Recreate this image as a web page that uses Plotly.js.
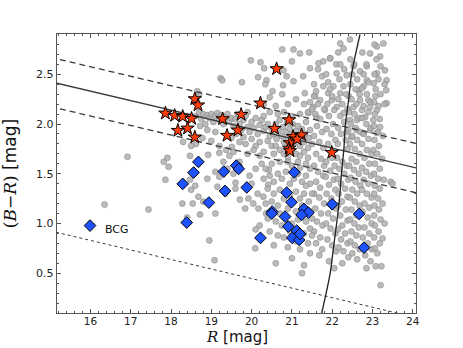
<!DOCTYPE html>
<html>
<head>
<meta charset="utf-8">
<script src="https://cdn.plot.ly/plotly-3.0.1.min.js"></script>
<style>
  body { margin: 0; background: #fff; }
  #chart { width: 463px; height: 348px; }
</style>
</head>
<body>
<div id="chart"></div>
<script>
// field galaxies (gray) as [R, B-R]
const fieldGalaxies = [
  [16.35,1.19],[16.92,1.67],[17.44,1.14],[17.82,1.62],[17.86,1.44],[17.91,1.66],[17.94,1.57],[18.28,1.2],
  [18.47,1.68],[18.5,1.34],[18.54,1.2],[18.47,1.44],[18.72,1.09],[18.95,0.83],[19.08,0.63],[19.1,1.1],
  [18.8,1.22],[18.68,1.27],[19.15,1.37],[18.92,1.69],[19.2,1.71],[19.37,1.74],[19.51,1.77],[19.6,1.41],
  [19.71,1.24],[19.84,1.15],[19.92,1.25],[20.04,1.2],[20.1,0.94],[20.09,0.75],[20.17,1.15],[20.29,1.27],
  [20.36,1.1],[20.41,1.39],[20.43,1.54],[18.3,1.82],[18.6,1.38],[18.4,1.06],[18.9,1.45],[19.35,1.3],
  [19.98,2.64],[20.22,2.62],[20.31,2.56],[20.16,2.47],[20.37,2.44],[20.34,2.4],[19.76,2.42],[19.23,2.46],
  [19.27,2.44],[20.52,2.33],[20.76,2.3],[20.78,2.39],[21.04,2.43],[20.87,2.48],[20.79,2.54],[21.0,2.63],
  [21.04,2.75],[20.76,2.75],[21.2,2.71],[21.43,2.72],[21.45,2.56],[21.28,2.48],[21.32,2.31],[21.57,2.28],
  [21.66,2.61],[21.78,2.63],[21.95,2.66],[22.2,2.81],[22.28,2.76],[22.44,2.85],[22.11,2.51],[22.36,2.49],
  [22.53,2.58],[22.69,2.53],[22.86,2.58],[22.94,2.71],[23.11,2.78],[23.27,2.81],[23.19,2.68],[23.31,2.54],
  [23.35,2.44],[23.34,2.34],[23.35,2.21],[23.11,2.51],[23.03,2.41],[22.86,2.44],[22.78,2.38],[22.65,2.34],
  [22.69,2.24],[22.9,2.24],[23.07,2.28],[23.11,2.14],[22.94,2.17],[22.74,2.14],[22.53,2.17],[22.41,2.28],
  [22.2,2.31],[22.03,2.38],[21.9,2.31],[21.78,2.38],[21.7,2.24],[21.53,2.17],[21.41,2.11],[21.61,2.07],
  [21.82,2.14],[21.99,2.24],[22.11,2.17],[22.28,2.11],[22.44,2.04],[22.61,2.04],[22.82,2.07],[23.02,2.04],
  [23.19,1.97],[23.11,1.91],[22.94,1.94],[22.78,1.91],[22.61,1.94],[22.48,1.87],[22.36,1.92],
  [18.62,2.08],[18.7,2.12],[18.75,2.05],[18.8,2.1],[18.85,2.0],[18.9,2.09],[18.95,2.06],[19.0,2.1],
  [19.05,2.02],[19.1,2.08],[19.15,2.11],[19.2,2.04],[19.25,2.09],[19.3,2.0],[19.35,2.07],[19.4,2.1],
  [19.45,2.03],[18.72,1.98],[18.9,1.94],[19.1,1.92],[18.65,2.22],[18.7,2.3],[18.65,2.33],[18.62,1.8],
  [18.5,1.78],[18.78,1.86],[19.0,1.83],[19.2,1.78],[19.5,1.86],[19.55,1.72],
  [19.5,2.06],[19.55,1.98],[19.6,2.05],[19.65,2.1],[19.7,2.0],[19.75,1.94],[19.8,2.04],[19.85,2.08],
  [19.9,1.97],[19.95,1.92],[20.0,2.02],[20.05,1.96],[20.1,2.06],[20.15,1.9],[20.2,1.99],[20.25,2.04],
  [20.3,1.93],[20.35,1.97],[20.4,2.0],[20.45,1.88],[20.5,1.95],[19.62,1.9],[19.8,1.87],[20.0,1.85],
  [20.2,1.82],[20.4,1.83],[20.1,1.78],[19.9,2.12],[20.3,2.08],[20.45,2.12],[19.7,1.82],[20.05,1.74],
  [20.3,1.72],[20.5,1.78],[19.85,1.8],
  [20.55,1.9],[20.6,2.0],[20.62,1.85],[20.68,1.94],[20.7,2.04],[20.75,1.88],[20.78,1.97],[20.8,1.82],
  [20.85,1.92],[20.88,2.01],[20.9,1.86],[20.95,1.95],[21.0,1.9],[21.02,2.0],[21.05,1.8],[21.1,1.93],
  [21.12,1.85],[21.15,1.98],[21.2,1.78],[21.22,1.88],[21.25,1.95],[21.3,1.82],[21.32,1.9],[21.35,2.02],
  [21.4,1.76],[21.42,1.86],[21.45,1.94],[21.5,1.8],[20.6,1.78],[20.7,1.74],[20.8,1.7],[20.9,1.66],
  [21.0,1.72],[21.1,1.7],[21.2,1.68],[21.3,1.72],[21.4,1.66],[20.65,2.1],[20.8,2.12],[21.0,2.08],
  [21.2,2.1],[21.4,2.12],[20.55,1.7],[21.15,1.62],[21.35,1.6],
  [20.3,2.2],[20.45,2.27],[20.6,2.18],[20.9,2.2],[21.1,2.25],[21.3,2.2],[21.45,2.22],[21.55,2.28],[21.5,2.15],
  [21.55,2.4],[21.6,2.33],[21.65,2.2],[21.58,2.1],[21.7,2.05],[21.62,1.98],[21.75,1.92],[21.55,1.88],
  [21.68,1.82],[21.78,1.76],[21.6,1.7],[21.72,1.65],[21.55,1.58],[21.65,1.52],[21.78,1.48],[21.6,1.42],
  [21.7,1.36],[21.55,1.3],[21.68,1.26],[21.8,1.2],[21.58,1.15],[21.72,1.1],[21.62,1.02],[21.76,0.98],
  [21.55,0.92],[21.7,0.86],[21.6,0.8],[21.75,0.74],[21.68,0.68],[21.8,1.58],[21.8,2.15],[21.75,2.48],[21.65,2.55],
  [21.85,2.5],[21.9,2.42],[21.95,2.35],[22.0,2.28],[21.88,2.2],[22.05,2.14],[21.92,2.08],[22.02,2.0],
  [21.86,1.95],[21.98,1.9],[22.08,1.84],[21.9,1.8],[22.0,1.66],[21.85,1.62],[22.06,1.58],[21.95,1.53],
  [21.84,1.47],[22.04,1.44],[21.92,1.39],[22.08,1.34],[21.86,1.3],[21.98,1.25],[22.1,1.15],[21.9,1.1],
  [22.02,1.05],[21.85,1.0],[21.96,0.95],[22.08,0.9],[21.88,0.84],[22.0,0.78],[22.1,0.72],[21.92,0.62],
  [22.05,0.55],[22.1,2.6],[21.95,2.66],
  [22.15,2.72],[22.2,2.6],[22.3,2.55],[22.18,2.45],[22.28,2.38],[22.35,2.3],[22.15,2.25],[22.25,2.2],
  [22.38,2.15],[22.2,2.08],[22.3,2.02],[22.15,1.96],[22.4,1.94],[22.22,1.9],[22.34,1.84],[22.14,1.8],
  [22.38,1.75],[22.12,1.66],[22.25,1.62],[22.36,1.58],[22.18,1.55],[22.3,1.5],[22.14,1.45],[22.4,1.44],
  [22.22,1.4],[22.32,1.35],[22.16,1.3],[22.38,1.27],[22.24,1.22],[22.14,1.18],[22.34,1.14],[22.2,1.08],
  [22.38,1.03],[22.25,0.98],[22.14,0.94],[22.32,0.9],[22.22,0.84],[22.38,0.8],[22.16,0.76],[22.28,0.72],
  [22.4,0.66],[22.25,0.6],
  [22.45,2.65],[22.55,2.6],[22.5,2.5],[22.62,2.45],[22.45,2.4],[22.58,2.35],[22.68,2.3],[22.48,2.25],
  [22.6,2.2],[22.42,2.12],[22.55,2.1],[22.68,2.06],[22.46,2.0],[22.58,1.96],[22.7,1.92],[22.5,1.88],
  [22.62,1.84],[22.44,1.8],[22.56,1.75],[22.68,1.7],[22.48,1.65],[22.6,1.62],[22.42,1.58],[22.54,1.54],
  [22.66,1.5],[22.46,1.46],[22.58,1.42],[22.7,1.38],[22.5,1.34],[22.62,1.3],[22.44,1.26],[22.56,1.22],
  [22.68,1.18],[22.48,1.14],[22.6,1.08],[22.44,1.04],[22.55,1.0],[22.66,0.96],[22.48,0.92],[22.6,0.88],
  [22.45,0.82],[22.56,0.78],[22.68,0.74],[22.5,0.7],[22.62,0.64],
  [22.75,2.72],[22.85,2.6],[22.78,2.5],[22.9,2.42],[22.74,2.36],[22.86,2.3],[22.95,2.22],[22.78,2.18],
  [22.9,2.12],[22.75,2.06],[22.85,2.0],[22.96,1.96],[22.78,1.9],[22.9,1.85],[22.74,1.8],[22.86,1.74],
  [22.98,1.7],[22.8,1.66],[22.92,1.6],[22.74,1.56],[22.84,1.52],[22.96,1.48],[22.78,1.44],[22.9,1.4],
  [22.74,1.34],[22.86,1.3],[22.98,1.26],[22.8,1.2],[22.92,1.16],[22.75,1.12],[22.88,1.06],[22.98,1.0],
  [22.8,0.96],[22.92,0.9],[22.76,0.86],[22.88,0.8],[22.98,0.74],[22.82,0.68],[22.95,0.62],[22.85,0.55],
  [23.05,2.8],[23.1,2.65],[23.2,2.58],[23.05,2.5],[23.15,2.45],[23.3,2.4],[23.08,2.35],[23.2,2.3],
  [23.04,2.22],[23.15,2.18],[23.3,2.2],[23.06,2.1],[23.18,2.05],[23.04,1.98],[23.14,1.92],[23.26,1.88],
  [23.05,1.84],[23.16,1.78],[23.02,1.74],[23.12,1.7],[23.24,1.65],[23.06,1.6],[23.18,1.55],[23.04,1.5],
  [23.14,1.45],[23.28,1.44],[23.06,1.38],[23.18,1.35],[23.04,1.3],[23.14,1.25],[23.05,1.18],[23.16,1.14],
  [23.04,1.08],[23.2,1.04],[23.06,0.98],[23.15,0.92],[23.04,0.86],[23.18,0.8],[23.06,0.75],[23.12,0.7],
  [23.25,0.85],[23.3,1.0],[23.25,1.2],[23.22,0.57],[23.08,0.57],[23.2,0.38],[23.45,1.42],[23.5,1.4],
  [20.3,1.45],[20.45,1.48],[20.55,1.42],[20.65,1.5],[20.75,1.45],[20.85,1.52],[20.95,1.4],[21.05,1.45],
  [21.15,1.5],[21.25,1.42],[21.35,1.48],[21.45,1.4],[20.4,1.35],[20.55,1.3],[20.7,1.34],[20.8,1.25],
  [20.95,1.28],[21.1,1.32],[21.2,1.25],[21.3,1.3],[21.42,1.22],[20.35,1.2],[20.5,1.22],[20.65,1.18],
  [20.7,1.1],[20.9,1.15],[21.1,1.12],[21.25,1.18],[21.45,1.12],[20.4,1.05],[20.6,1.02],[20.75,0.98],
  [21.0,1.0],[21.15,1.04],[21.35,1.02],[21.5,1.05],[20.45,0.92],[20.65,0.88],[20.8,0.86],[21.1,0.82],
  [21.3,0.9],[21.45,0.95],[20.55,0.78],[20.9,0.76],[21.2,0.74],[21.4,0.8],[21.0,0.65],[21.3,0.58],
  [21.25,0.5],[20.6,0.6],[20.2,0.98],[20.15,1.3],[20.25,1.6],[20.5,1.6],[20.7,1.62],[21.0,1.58],
  [21.2,1.56],[21.45,1.55],[20.9,1.62],[20.35,1.55],[21.5,1.3],[21.5,0.88],[21.45,0.7],[20.95,0.92],[21.35,1.38],
  [19.55,1.5],[19.7,1.62],[19.95,1.48],[20.1,1.55],[19.6,1.35],[20.0,1.4],[19.45,1.68],[19.9,1.7],
  [20.2,1.68],[19.3,1.62],[19.4,1.55],[19.2,1.47],[19.1,1.52]
];

// spectroscopic members (stars)
const memberR  = [17.86,18.09,18.29,18.51,18.59,18.67,18.17,18.41,18.59,19.28,19.74,19.39,19.66,20.22,20.62,20.57,20.93,21.03,21.24,20.95,20.93,20.95,21.13,21.99];
const memberBR = [2.108,2.085,2.075,2.055,2.252,2.19,1.934,1.957,1.867,2.051,2.095,1.884,1.937,2.209,2.554,1.954,2.041,1.873,1.89,1.81,1.756,1.73,1.847,1.713];

// blue objects (diamonds), first one is the BCG
const blueR  = [15.99,18.68,18.56,18.29,18.39,18.94,19.31,19.34,19.62,19.68,19.88,20.22,20.51,20.5,20.87,20.99,20.83,20.91,21.01,21.12,21.18,21.2,21.06,21.3,21.41,21.24,22.0,22.67,22.79];
const blueBR = [0.979,1.619,1.512,1.398,1.009,1.21,1.522,1.327,1.582,1.549,1.362,0.855,1.12,1.1,1.31,1.214,1.069,0.969,0.855,0.928,0.835,0.895,1.515,1.146,1.109,1.086,1.193,1.096,0.757];

// red sequence fit and its envelope
const fitR = [15.0, 24.5];
const fitBR = [2.426, 1.519];
const upperBR = [2.671, 1.764];
const lowerBR = [2.176, 1.269];
// dotted limit line
const dotR = [15.0, 24.5];
const dotBR = [0.926, 0.014];
// magnitude limit curve
const limR  = [21.74, 21.85, 21.95, 22.03, 22.11, 22.18, 22.23, 22.29, 22.33, 22.41, 22.48, 22.58, 22.69];
const limBR = [0.1, 0.3, 0.5, 0.75, 1.0, 1.25, 1.5, 1.75, 2.0, 2.25, 2.5, 2.7, 2.9];

const lineCol = '#3a3a3a';

const traces = [
  {
    x: fieldGalaxies.map(p => p[0]), y: fieldGalaxies.map(p => p[1]),
    mode: 'markers', type: 'scatter',
    marker: { size: 6, color: 'rgba(175,175,175,0.85)', line: { color: 'rgba(125,125,125,0.8)', width: 0.6 } }
  },
  { x: fitR, y: fitBR, mode: 'lines', line: { color: lineCol, width: 1.3 } },
  { x: fitR, y: upperBR, mode: 'lines', line: { color: lineCol, width: 1.3, dash: '6px,4px' } },
  { x: fitR, y: lowerBR, mode: 'lines', line: { color: lineCol, width: 1.3, dash: '6px,4px' } },
  { x: dotR, y: dotBR, mode: 'lines', line: { color: lineCol, width: 1, dash: 'dot' } },
  { x: limR, y: limBR, mode: 'lines', line: { color: '#222', width: 1.3, shape: 'spline' } },
  {
    x: blueR, y: blueBR, mode: 'markers',
    marker: { symbol: 'diamond', size: 9, color: '#1f52ff', line: { color: '#000', width: 1 } }
  },
  {
    x: memberR, y: memberBR, mode: 'markers',
    marker: { symbol: 'star', size: 10, color: '#ff3d0a', line: { color: '#000', width: 1 } }
  }
];

const axisCommon = {
  showgrid: false, zeroline: false,
  showline: true, linecolor: '#555', linewidth: 1.3, mirror: 'allticks',
  ticks: 'inside', ticklen: 4, tickcolor: '#555', tickwidth: 1,
  tickfont: { family: 'DejaVu Sans', size: 11, color: '#222' }
};

const layout = {
  width: 463, height: 348,
  margin: { l: 57, r: 47, t: 34, b: 35 },
  paper_bgcolor: '#fff', plot_bgcolor: '#fff',
  showlegend: false,
  xaxis: Object.assign({}, axisCommon, {
    range: [15.17, 24.08], dtick: 1, tick0: 0,
    tickfont: { family: 'DejaVu Sans', size: 10.5, color: '#222' },
    ticklabelstandoff: -2,
    minor: { dtick: 0.2, ticks: 'inside', ticklen: 2, tickcolor: '#555' }
  }),
  yaxis: Object.assign({}, axisCommon, {
    range: [0.1, 2.905], dtick: 0.5, tick0: 0, tickformat: '.1f',
    minor: { dtick: 0.1, ticks: 'inside', ticklen: 2, tickcolor: '#555' },
    title: { text: '<span style="font-family:DejaVu Serif">(<i>B</i>−<i>R</i>)</span> [mag]', font: { family: 'DejaVu Sans', size: 17, color: '#111' } }
  }),
  annotations: [
    { x: 16.3, y: 0.935, xref: 'x', yref: 'y', text: 'BCG', showarrow: false, xanchor: 'left',
      font: { family: 'DejaVu Sans', size: 11, color: '#111' } },
    { x: 0.5, y: 0, xref: 'paper', yref: 'paper', yanchor: 'top', yshift: -14, borderpad: 0, showarrow: false,
      text: '<span style="font-family:DejaVu Serif"><i>R</i></span> [mag]',
      font: { family: 'DejaVu Sans', size: 15, color: '#111' } }
  ]
};

Plotly.newPlot('chart', traces, layout, { staticPlot: true });
</script>
</body>
</html>
